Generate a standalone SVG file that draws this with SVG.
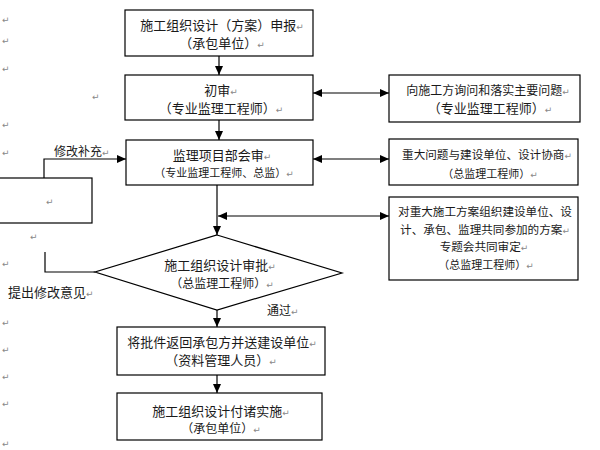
<svg xmlns="http://www.w3.org/2000/svg" width="600" height="450" viewBox="0 0 600 450">
<defs>
<marker id="ah" markerUnits="userSpaceOnUse" markerWidth="9" markerHeight="9" viewBox="0 0 9 9" refX="9" refY="4.5" orient="auto-start-reverse">
<path d="M0,0.5 L9,4.5 L0,8.5 z" fill="#000"/>
</marker>
<style>
.box{fill:#fff;stroke:#000;stroke-width:1.2}
.t{font-family:"Noto Sans CJK SC","Liberation Sans",sans-serif;fill:#1a1a1a;text-anchor:middle}
.l{font-family:"Noto Sans CJK SC","Liberation Sans",sans-serif;fill:#1a1a1a}
.pm{fill:#888;font-size:9px;font-family:"DejaVu Sans",sans-serif}
.m{font-family:"DejaVu Sans",sans-serif;font-size:9px;fill:#888}
.c{fill:none;stroke:#000;stroke-width:1.2}
</style>
</defs>
<rect width="600" height="450" fill="#fff"/>

<g id="margin-marks">
<text class="m" x="2" y="23">↵</text>
<text class="m" x="2" y="44">↵</text>
<text class="m" x="2" y="72">↵</text>
<text class="m" x="92" y="100">↵</text>
<text class="m" x="2" y="128">↵</text>
<text class="m" x="2" y="156">↵</text>
<text class="m" x="30" y="240">↵</text>
<text class="m" x="2" y="267">↵</text>
<text class="m" x="2" y="326">↵</text>
<text class="m" x="2" y="353">↵</text>
<text class="m" x="2" y="380">↵</text>
<text class="m" x="2" y="407">↵</text>
<text class="m" x="2" y="447">↵</text>
</g>

<g id="connectors">
<line class="c" x1="219" y1="56" x2="219" y2="75" marker-end="url(#ah)"/>
<line class="c" x1="219" y1="120" x2="219" y2="140" marker-end="url(#ah)"/>
<line class="c" x1="313" y1="93" x2="389" y2="93" marker-start="url(#ah)" marker-end="url(#ah)"/>
<line class="c" x1="313" y1="159" x2="389" y2="159" marker-start="url(#ah)" marker-end="url(#ah)"/>
<line class="c" x1="217" y1="185" x2="217" y2="235" marker-end="url(#ah)"/>
<line class="c" x1="218" y1="216" x2="389" y2="216" marker-start="url(#ah)" marker-end="url(#ah)"/>
<line class="c" x1="217" y1="310" x2="217" y2="327" marker-end="url(#ah)"/>
<line class="c" x1="217" y1="375" x2="217" y2="393" marker-end="url(#ah)"/>
<polyline class="c" points="95,272 45,272 45,252"/>
<polyline class="c" points="44,178 44,159 126,159" marker-end="url(#ah)"/>
</g>

<g id="n1">
<rect class="box" x="125" y="10" width="188" height="46"/>
<text class="t" x="222" y="30" font-size="13">施工组织设计（方案）申报<tspan class="pm">↵</tspan></text>
<text class="t" x="222" y="48" font-size="13">（承包单位）<tspan class="pm">↵</tspan></text>
</g>

<g id="n2">
<rect class="box" x="125" y="75" width="188" height="45"/>
<text class="t" x="221" y="95" font-size="13">初审<tspan class="pm">↵</tspan></text>
<text class="t" x="221" y="113" font-size="13">（专业监理工程师）<tspan class="pm">↵</tspan></text>
</g>

<g id="n3">
<rect class="box" x="126" y="140" width="187" height="45"/>
<text class="t" x="222" y="160" font-size="13">监理项目部会审<tspan class="pm">↵</tspan></text>
<text class="t" x="224" y="177" font-size="11">（专业监理工程师、总监）<tspan class="pm">↵</tspan></text>
</g>

<g id="nA">
<rect class="box" x="389" y="75" width="191" height="47"/>
<text class="t" x="488" y="95" font-size="12">向施工方询问和落实主要问题<tspan class="pm">↵</tspan></text>
<text class="t" x="490" y="113" font-size="13">（专业监理工程师）<tspan class="pm">↵</tspan></text>
</g>

<g id="nB">
<rect class="box" x="389" y="139" width="189" height="46"/>
<text class="t" x="487" y="159" font-size="11.6">重大问题与建设单位、设计协商<tspan class="pm">↵</tspan></text>
<text class="t" x="490" y="178" font-size="11">（总监理工程师）<tspan class="pm">↵</tspan></text>
</g>

<g id="nC">
<rect class="box" x="389" y="197" width="189" height="83"/>
<text class="t" x="485" y="216" font-size="11.6">对重大施工方案组织建设单位、设</text>
<text class="t" x="485" y="234" font-size="11.6">计、承包、监理共同参加的方案<tspan class="pm">↵</tspan></text>
<text class="t" x="484" y="251" font-size="11.6">专题会共同审定<tspan class="pm">↵</tspan></text>
<text class="t" x="486" y="269" font-size="11">（总监理工程师）<tspan class="pm">↵</tspan></text>
</g>

<g id="nLeft">
<rect class="box" x="-1" y="178" width="93" height="45"/>
<text class="m" x="46" y="205">↵</text>
</g>

<g id="nD">
<polygon class="box" points="217,235 342,273 217,310 95,272"/>
<text class="t" x="220" y="270" font-size="13">施工组织设计审批<tspan class="pm">↵</tspan></text>
<text class="t" x="222" y="288" font-size="12">（总监理工程师）<tspan class="pm">↵</tspan></text>
</g>

<g id="n4">
<rect class="box" x="117" y="327" width="208" height="48"/>
<text class="t" x="222" y="347" font-size="13">将批件返回承包方并送建设单位<tspan class="pm">↵</tspan></text>
<text class="t" x="221" y="365" font-size="13">（资料管理人员）<tspan class="pm">↵</tspan></text>
</g>

<g id="n5">
<rect class="box" x="117" y="393" width="205" height="47"/>
<text class="t" x="221" y="416" font-size="13">施工组织设计付诸实施<tspan class="pm">↵</tspan></text>
<text class="t" x="221" y="433" font-size="12">（承包单位）<tspan class="pm">↵</tspan></text>
</g>

<g id="labels">
<text class="l" x="54" y="156" font-size="12">修改补充<tspan class="pm">↵</tspan></text>
<text class="l" x="8" y="297" font-size="13">提出修改意见<tspan class="pm">↵</tspan></text>
<text class="l" x="267" y="315" font-size="12">通过<tspan class="pm">↵</tspan></text>
</g>
</svg>
